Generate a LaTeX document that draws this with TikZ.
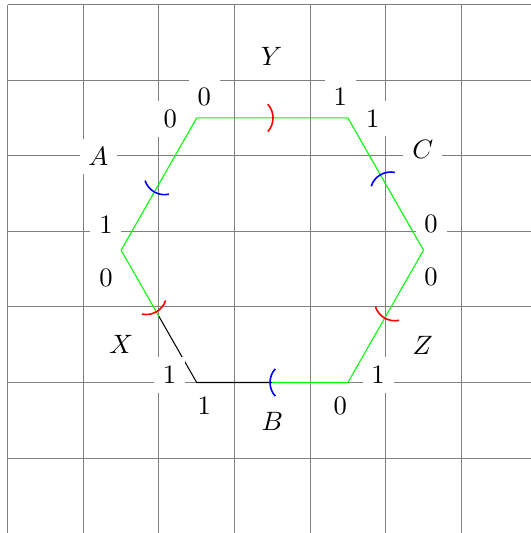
\documentclass[tikz,border=0pt]{standalone}
\usetikzlibrary{calc}

\tikzset{
  lbl/.style={fill=white},
  side/.style={green},
}
% colour, from, to, pos, angle of the side
\newcommand{\gluearc}[5]{%
  \draw[#1, semithick] ($(#2)!#4!(#3)$) ++(#5+180:0.27) ++(#5-42:0.27)
    arc[start angle=#5-42, end angle=#5+42, radius=0.27];
}

\begin{document}
\begin{tikzpicture}
    \useasboundingbox (-3.102,-1.991) rectangle (3.922,5.060);
    % Grid
    \draw[gray, thin] (-3,-1.991) grid (3.922,5);

    % Corners
    \coordinate (v1) at (-0.5,0);
    \coordinate (v2) at (1.5,0);
    \coordinate (v3) at (2.5,1.75);
    \coordinate (v4) at (1.5,3.5);
    \coordinate (v5) at (-0.5,3.5);
    \coordinate (v6) at (-1.5,1.75);
    \coordinate (mB) at ($(v1)!0.5!(v2)$);
    \coordinate (mX) at ($(v6)!0.5!(v1)$);

    % Sides
    \draw (mX) -- (v1) -- (mB);

    % Side names
    \node[lbl] (Y) at (0.49,4.31) {$Y$};
    \node[lbl] (A) at (-1.8,2.99) {$A$};
    \node[lbl] (C) at (2.49,3.08) {$C$};
    \node[lbl] (Z) at (2.49,0.49) {$Z$};
    \node[lbl] (B) at (0.5,-0.51) {$B$};
    \node[lbl] (X) at (-1.5,0.5) {$X$};

    % Ends of the sides
    \node[lbl] (Y0) at (-0.4,3.78) {0};
    \node[lbl] (Y1) at (1.4,3.78) {1};
    \node[lbl] (A0) at (-0.85,3.49) {0};
    \node[lbl] (A1) at (-1.7,2.09) {1};
    \node[lbl] (C1) at (1.83,3.49) {1};
    \node[lbl] (C0) at (2.6,2.1) {0};
    \node[lbl] (Z0) at (2.6,1.39) {0};
    \node[lbl] (Z1) at (1.9,0.1) {1};
    \node[lbl] (B0) at (1.4,-0.31) {0};
    \node[lbl] (B1) at (-0.4,-0.31) {1};
    \node[lbl] (X1) at (-0.86,0.1) {1};
    \node[lbl] (X0) at (-1.7,1.38) {0};

    \draw[side] (mB) -- (v2) -- (v3) -- (v4) -- (v5) -- (v6) -- (mX);

    % Gluing marks
    \gluearc{red}{v5}{v4}{0.505}{0}
    \gluearc{blue}{v5}{v6}{0.56}{240.26}
    \gluearc{blue}{v3}{v4}{0.57}{120.26}
    \gluearc{red}{v3}{v2}{0.513}{240.26}
    \gluearc{blue}{v2}{v1}{0.515}{180}
    \gluearc{red}{v6}{v1}{0.466}{-60.26}
\end{tikzpicture}
\end{document}
